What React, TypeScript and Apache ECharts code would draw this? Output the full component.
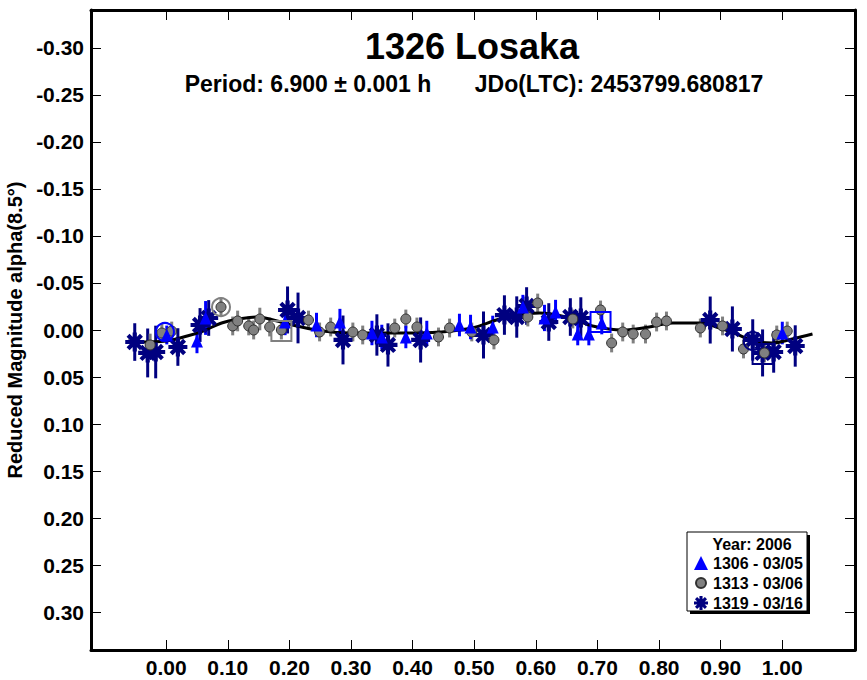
import React, { useEffect, useRef } from 'react';
import * as echarts from 'echarts';

// phase, reduced magnitude, error
const session1306: number[][] = [
  [0.001, 0.0053, 0.010], [0.050, 0.0117, 0.013], [0.064, -0.0128, 0.018],
  [0.193, -0.0085, 0.014], [0.244, -0.0053, 0.013], [0.282, -0.0085, 0.014],
  [0.334, 0.0032, 0.013], [0.350, 0.0074, 0.013], [0.389, 0.0074, 0.012],
  [0.423, 0.0032, 0.013], [0.476, -0.0053, 0.012], [0.494, -0.0032, 0.013],
  [0.530, -0.0032, 0.012], [0.579, -0.0244, 0.013], [0.614, -0.0128, 0.014],
  [0.632, -0.0191, 0.013], [0.668, 0.0043, 0.012], [0.686, 0.0043, 0.012],
  [0.707, -0.0074, 0.012], [1.000, 0.0032, 0.012]
];

const session1313: number[][] = [
  [-0.026, 0.0159, 0.012], [-0.007, 0.0032, 0.010], [0.009, 0.0011, 0.010],
  [0.089, -0.0244, 0.010], [0.108, -0.0043, 0.010], [0.116, -0.0096, 0.011],
  [0.134, -0.0043, 0.010], [0.142, 0.0000, 0.010], [0.152, -0.0117, 0.012],
  [0.168, -0.0032, 0.010], [0.187, 0.0000, 0.010], [0.231, -0.0106, 0.010],
  [0.249, 0.0021, 0.010], [0.267, -0.0032, 0.010], [0.303, 0.0021, 0.010],
  [0.319, 0.0053, 0.010], [0.371, -0.0021, 0.010], [0.389, -0.0117, 0.010],
  [0.407, -0.0032, 0.010], [0.442, 0.0074, 0.010], [0.460, -0.0021, 0.010],
  [0.496, 0.0021, 0.010], [0.532, 0.0106, 0.010], [0.587, -0.0138, 0.010],
  [0.603, -0.0287, 0.010], [0.660, -0.0117, 0.010], [0.705, -0.0213, 0.010],
  [0.723, 0.0138, 0.010], [0.741, 0.0021, 0.010], [0.758, 0.0043, 0.010],
  [0.778, 0.0043, 0.010], [0.796, -0.0085, 0.010], [0.812, -0.0096, 0.010],
  [0.867, -0.0021, 0.010], [0.903, -0.0043, 0.010], [0.937, 0.0202, 0.010],
  [0.971, 0.0244, 0.010], [0.991, 0.0053, 0.010], [1.008, 0.0011, 0.010]
];

const session1319: number[][] = [
  [-0.051, 0.0128, 0.020], [-0.030, 0.0244, 0.026], [-0.017, 0.0234, 0.028],
  [0.019, 0.0181, 0.020], [0.055, -0.0053, 0.018], [0.069, -0.0128, 0.019],
  [0.197, -0.0213, 0.025], [0.214, -0.0128, 0.027], [0.287, 0.0106, 0.026],
  [0.342, 0.0053, 0.022], [0.360, 0.0159, 0.023], [0.413, 0.0106, 0.024],
  [0.515, 0.0053, 0.025], [0.549, -0.0159, 0.021], [0.569, -0.0138, 0.022],
  [0.585, -0.0255, 0.020], [0.621, -0.0085, 0.020], [0.656, -0.0138, 0.020],
  [0.673, -0.0128, 0.022], [0.883, -0.0106, 0.025], [0.919, -0.0011, 0.024],
  [0.952, 0.0106, 0.022], [0.968, 0.0244, 0.025], [0.986, 0.0234, 0.022],
  [1.021, 0.0170, 0.022]
];

// first and last observation of each session
const firstPoints: number[][] = [[-0.002, 0.0021], [0.089, -0.0244], [0.952, 0.0117]];
const lastPoints: number[][] = [[0.705, -0.0085], [0.187, 0.0011], [0.968, 0.0255]];

const fitCurve: number[][] = [
  [-0.062, 0.0117], [-0.043, 0.0128], [0.000, 0.0117], [0.034, 0.0064],
  [0.060, 0.0011], [0.090, -0.0074], [0.119, -0.0117], [0.147, -0.0138],
  [0.180, -0.0096], [0.212, -0.0043], [0.254, 0.0011], [0.298, 0.0032],
  [0.335, 0.0032], [0.390, 0.0032], [0.444, 0.0021], [0.497, -0.0021],
  [0.536, -0.0106], [0.569, -0.0159], [0.606, -0.0181], [0.650, -0.0138],
  [0.692, -0.0043], [0.741, 0.0000], [0.784, -0.0032], [0.822, -0.0074],
  [0.866, -0.0074], [0.893, -0.0032], [0.926, 0.0043], [0.952, 0.0117],
  [0.984, 0.0138], [1.016, 0.0096], [1.049, 0.0043]
];

const sessionNames = ['1306 - 03/05', '1313 - 03/06', '1319 - 03/16'];
const xTicks = [0, 0.1, 0.2, 0.3, 0.4, 0.5, 0.6, 0.7, 0.8, 0.9, 1.0];
const yTicks = [-0.3, -0.25, -0.2, -0.15, -0.1, -0.05, 0, 0.05, 0.1, 0.15, 0.2, 0.25, 0.3];

const STAR =
  'path://M-2.2,-10L2.2,-10L2.2,10L-2.2,10Z' +
  'M-10,-2.2L10,-2.2L10,2.2L-10,2.2Z' +
  'M5.5,8.6L-8.6,-5.5L-5.5,-8.6L8.6,5.5Z' +
  'M-5.5,8.6L-8.6,5.5L5.5,-8.6L8.6,-5.5Z';

// small dot with empty padding so the legend icon keeps the dot size
const LEGEND_DOT = 'path://M-7,-7L-7,-7M7,7L7,7M5,0A5,5,0,1,1,-5,0A5,5,0,1,1,5,0Z';

const FONT = '"Liberation Sans", Arial, sans-serif';

function errorBars(name: string, data: number[][], color: string) {
  return {
    name,
    type: 'custom',
    data,
    encode: { x: 0, y: 1 },
    z: 2,
    renderItem: (_params: any, api: any) => {
      const x = api.value(0);
      const y = api.value(1);
      const e = api.value(2);
      const p1 = api.coord([x, y - e]);
      const p2 = api.coord([x, y + e]);
      return {
        type: 'line',
        shape: { x1: p1[0], y1: p1[1], x2: p2[0], y2: p2[1] },
        style: { stroke: color, lineWidth: 3 }
      };
    }
  };
}

function marker(data: number[], symbol: string, size: number, color: string) {
  return {
    type: 'scatter',
    data: [data],
    symbol,
    symbolSize: size,
    z: 5,
    itemStyle: { color: 'rgba(0,0,0,0)', borderColor: color, borderWidth: 2, opacity: 1 }
  };
}

export default function App() {
  const chartRef = useRef<HTMLDivElement>(null);

  useEffect(() => {
    document.body.style.margin = '0';
    if (!chartRef.current) return;
    const chart = echarts.init(chartRef.current, null, { renderer: 'svg' });

    const axisCommon = {
      type: 'value',
      axisLine: { show: true, onZero: false, lineStyle: { color: '#000', width: 3 } },
      splitLine: { show: false }
    };

    const option: any = {
      animation: false,
      backgroundColor: '#fff',
      grid: { left: 91, right: 12, top: 10, bottom: 30, containLabel: false, outerBoundsMode: 'none' },
      xAxis: [
        {
          ...axisCommon,
          position: 'bottom',
          min: -0.122,
          max: 1.118,
          axisTick: { inside: true, length: 10, customValues: xTicks, lineStyle: { color: '#000', width: 1 } },
          axisLabel: {
            customValues: xTicks,
            formatter: (v: number) => v.toFixed(2),
            color: '#000',
            fontSize: 21,
            fontWeight: 'bold',
            fontFamily: FONT,
            margin: 7
          }
        },
        {
          ...axisCommon,
          position: 'top',
          min: -0.122,
          max: 1.118,
          axisTick: { inside: true, length: 10, customValues: xTicks, lineStyle: { color: '#000', width: 1 } },
          axisLabel: { show: false }
        }
      ],
      yAxis: [
        {
          ...axisCommon,
          position: 'left',
          inverse: true,
          min: -0.3404,
          max: 0.3404,
          name: 'Reduced Magnitude alpha(8.5°)',
          nameLocation: 'middle',
          nameGap: 63,
          nameRotate: 90,
          nameTextStyle: { color: '#000', fontSize: 20, fontWeight: 'bold', fontFamily: FONT },
          axisTick: { inside: true, length: 10, customValues: yTicks, lineStyle: { color: '#000', width: 1 } },
          axisLabel: {
            customValues: yTicks,
            formatter: (v: number) => v.toFixed(2),
            color: '#000',
            fontSize: 21,
            fontWeight: 'bold',
            fontFamily: FONT,
            margin: 7
          }
        },
        {
          ...axisCommon,
          position: 'right',
          inverse: true,
          min: -0.3404,
          max: 0.3404,
          axisTick: { inside: true, length: 10, customValues: yTicks, lineStyle: { color: '#000', width: 1 } },
          axisLabel: { show: false }
        }
      ],
      legend: {
        data: [
          { name: sessionNames[0] },
          { name: sessionNames[1], icon: LEGEND_DOT },
          { name: sessionNames[2] }
        ],
        orient: 'vertical',
        left: 693,
        top: 555,
        itemWidth: 14,
        itemHeight: 14,
        itemGap: 4,
        padding: 0,
        selectedMode: false,
        z: 20,
        textStyle: { color: '#000', fontSize: 16, fontWeight: 'bold', fontFamily: FONT }
      },
      graphic: [
        {
          type: 'text',
          x: 472,
          y: 46,
          style: {
            text: '1326 Losaka',
            fill: '#000',
            font: `bold 36px ${FONT}`,
            textAlign: 'center',
            textVerticalAlign: 'middle'
          }
        },
        {
          type: 'text',
          x: 308,
          y: 84,
          style: {
            text: 'Period: 6.900 ± 0.001 h',
            fill: '#000',
            font: `bold 23px ${FONT}`,
            textAlign: 'center',
            textVerticalAlign: 'middle'
          }
        },
        {
          type: 'text',
          x: 619,
          y: 84,
          style: {
            text: 'JDo(LTC): 2453799.680817',
            fill: '#000',
            font: `bold 23px ${FONT}`,
            textAlign: 'center',
            textVerticalAlign: 'middle'
          }
        },
        {
          type: 'rect',
          z: 10,
          shape: { x: 690, y: 535, width: 120, height: 79 },
          style: { fill: '#000' }
        },
        {
          type: 'rect',
          z: 11,
          shape: { x: 687, y: 532, width: 120, height: 79 },
          style: { fill: '#fff', stroke: '#000', lineWidth: 1 }
        },
        {
          type: 'text',
          z: 12,
          x: 752,
          y: 544,
          style: {
            text: 'Year: 2006',
            fill: '#000',
            font: `bold 16px ${FONT}`,
            textAlign: 'center',
            textVerticalAlign: 'middle'
          }
        }
      ],
      series: [
        {
          type: 'line',
          data: fitCurve,
          smooth: 0.4,
          showSymbol: false,
          z: 3,
          lineStyle: { color: '#000', width: 3 }
        },
        errorBars('e1319', session1319, '#000080'),
        {
          name: sessionNames[2],
          type: 'scatter',
          data: session1319.map(d => [d[0], d[1]]),
          symbol: STAR,
          symbolSize: 19,
          z: 4,
          itemStyle: { color: '#000080', opacity: 1 }
        },
        errorBars('e1313', session1313, '#808080'),
        {
          name: sessionNames[1],
          type: 'scatter',
          data: session1313.map(d => [d[0], d[1]]),
          symbol: 'circle',
          symbolSize: 10,
          z: 4,
          itemStyle: { color: '#808080', borderColor: '#303030', borderWidth: 1, opacity: 1 }
        },
        errorBars('e1306', session1306, '#0000ff'),
        {
          name: sessionNames[0],
          type: 'scatter',
          data: session1306.map(d => [d[0], d[1]]),
          symbol: 'triangle',
          symbolSize: [12, 13],
          z: 4,
          itemStyle: { color: '#0000ff', opacity: 1 }
        },
        marker(firstPoints[0], 'circle', 18, '#0000ff'),
        marker(lastPoints[0], 'rect', 20, '#0000ff'),
        marker(firstPoints[1], 'circle', 18, '#808080'),
        marker(lastPoints[1], 'rect', 20, '#808080'),
        marker(firstPoints[2], 'circle', 18, '#000080'),
        marker(lastPoints[2], 'rect', 20, '#000080')
      ]
    };

    chart.setOption(option);

    return () => {
      chart.dispose();
    };
  }, []);

  return <div ref={chartRef} style={{ width: 867, height: 680 }} />;
}
